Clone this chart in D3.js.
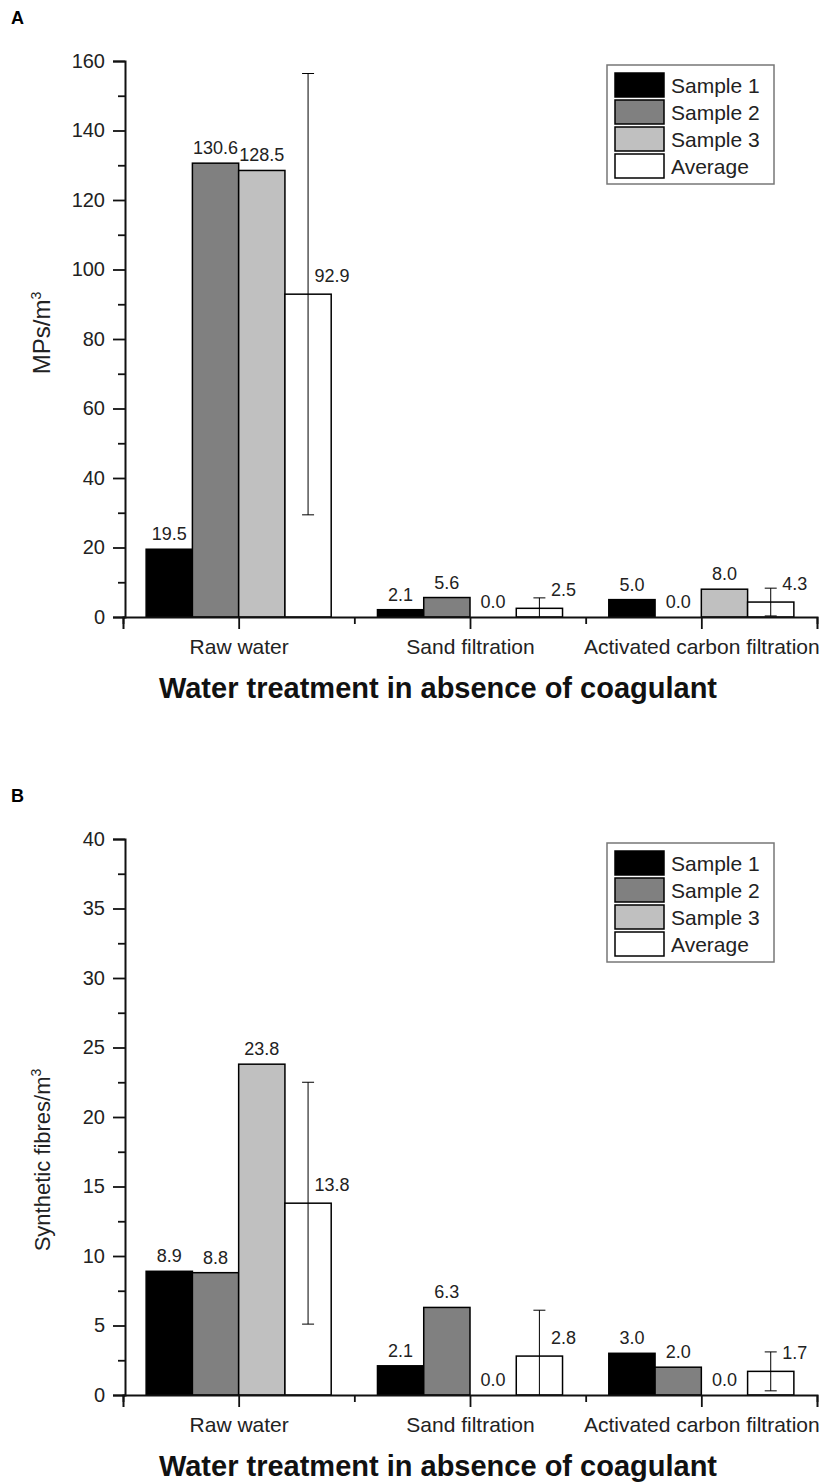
<!DOCTYPE html>
<html lang="en">
<head>
  <meta charset="UTF-8">
  <title>Water treatment in absence of coagulant</title>
  <style>
    body { margin: 0; background: #fff; }
    svg { font-family: "Liberation Sans", Arial, sans-serif; }
  </style>
</head>
<body>
  <svg id="chart" width="827" height="1483"></svg>
  <script src="https://cdn.jsdelivr.net/npm/d3@7/dist/d3.min.js"></script>
  <script>
    // categories and series
    const categories = ['Raw water', 'Sand filtration', 'Activated carbon filtration']
    const seriesNames = ['Sample 1', 'Sample 2', 'Sample 3', 'Average']
    const seriesFill = ['#000000', '#808080', '#c0c0c0', '#ffffff']

    // panel A: MPs/m3
    const mpsSample1 = [19.5, 2.1, 5.0]
    const mpsSample2 = [130.6, 5.6, 0.0]
    const mpsSample3 = [128.5, 0.0, 8.0]
    const mpsAverage = [92.9, 2.5, 4.3]
    const mpsErr = [63.5, 3.0, 4.0]
    const mpsTicks = [0, 20, 40, 60, 80, 100, 120, 140, 160]

    // panel B: synthetic fibres/m3
    const fibSample1 = [8.9, 2.1, 3.0]
    const fibSample2 = [8.8, 6.3, 2.0]
    const fibSample3 = [23.8, 0.0, 0.0]
    const fibAverage = [13.8, 2.8, 1.7]
    const fibErr = [8.7, 3.3, 1.4]
    const fibTicks = [0, 5, 10, 15, 20, 25, 30, 35, 40]

    const svg = d3.select('#chart')

    function drawPanel(opt) {
      const g = svg.append('g').attr('transform', 'translate(0,' + opt.dy + ')')
      const x = d3.scaleLinear().domain([0.5, 3.5]).range([123, 817])
      const y = d3.scaleLinear().domain([0, opt.max]).range([617, 61])
      const barW = 0.2

      // panel letter
      g.append('text').attr('x', 11).attr('y', 24)
        .attr('font-size', 18).attr('font-weight', 'bold').text(opt.letter)

      // bars
      const series = opt.values
      series.forEach(function(vals, si) {
        g.selectAll('.bar' + si).data(vals).enter().append('rect')
          .attr('x', (d, i) => x(i + 1 - 0.4 + si * barW))
          .attr('width', x(barW) - x(0))
          .attr('y', d => y(d))
          .attr('height', d => y(0) - y(d))
          .attr('fill', seriesFill[si])
          .attr('stroke', '#000')
          .attr('stroke-width', 1.5)
      })

      // error bars on average
      const avg = series[3]
      opt.err.forEach(function(e, i) {
        const cx = x(i + 1 + 0.3)
        const top = avg[i] + e
        const bot = Math.max(0, avg[i] - e)
        g.append('line').attr('x1', cx).attr('x2', cx)
          .attr('y1', y(top)).attr('y2', y(bot))
          .attr('stroke', '#000').attr('stroke-width', 1)
        g.append('line').attr('x1', cx - 6).attr('x2', cx + 6)
          .attr('y1', y(top)).attr('y2', y(top))
          .attr('stroke', '#000').attr('stroke-width', 1)
        if (avg[i] - e >= 0) {
          g.append('line').attr('x1', cx - 6).attr('x2', cx + 6)
            .attr('y1', y(bot)).attr('y2', y(bot))
            .attr('stroke', '#000').attr('stroke-width', 1)
        }
      })

      // value labels
      series.forEach(function(vals, si) {
        g.selectAll('.lab' + si).data(vals).enter().append('text')
          .attr('x', (d, i) => x(i + 1 - 0.3 + si * barW) + (si === 3 ? 24 : 0))
          .attr('y', d => y(d) - (si === 3 ? 12 : 9))
          .attr('text-anchor', 'middle')
          .attr('font-size', 18)
          .attr('fill', '#222')
          .text(d => d.toFixed(1))
      })

      // y axis
      const yAxis = g.append('g').attr('transform', 'translate(125,0)')
        .call(d3.axisLeft(y).tickValues(opt.ticks).tickSize(12).tickPadding(8))
      const step = opt.ticks[1] - opt.ticks[0]
      const minor = opt.ticks.slice(0, -1).map(t => t + step / 2)
      g.append('g').attr('transform', 'translate(125,0)')
        .call(d3.axisLeft(y).tickValues(minor).tickSize(7).tickFormat(''))
        .select('.domain').remove()

      // x axis
      const xAxis = g.append('g').attr('transform', 'translate(0,617)')
        .call(d3.axisBottom(x).tickValues([1, 2, 3]).tickSize(12).tickPadding(10)
          .tickFormat(d => categories[d - 1]))
      g.append('g').attr('transform', 'translate(0,617)')
        .call(d3.axisBottom(x).tickValues([0.5, 1.5, 2.5, 3.5]).tickSize(7).tickFormat(''))
        .select('.domain').remove()

      g.selectAll('.tick line').attr('stroke', '#111').attr('stroke-width', 1.8)
      g.selectAll('.domain').attr('stroke', '#111').attr('stroke-width', 2)
      yAxis.selectAll('text').attr('font-size', 20).attr('fill', '#222')
        .style('font-family', '"Liberation Sans", Arial, sans-serif')
      xAxis.selectAll('text').attr('font-size', 21).attr('fill', '#222')
        .style('font-family', '"Liberation Sans", Arial, sans-serif')

      // x title
      g.append('text').attr('x', 438).attr('y', 698)
        .attr('text-anchor', 'middle').attr('font-size', 29).attr('font-weight', 'bold')
        .attr('fill', '#111').text('Water treatment in absence of coagulant')

      // y title
      const yt = g.append('text')
        .attr('transform', 'translate(50,' + opt.yTitleY + ') rotate(-90)')
        .attr('text-anchor', 'middle').attr('font-size', opt.yTitleSize).attr('fill', '#222')
      yt.append('tspan').text(opt.yTitle + '/m')
      yt.append('tspan').attr('dy', -9).attr('font-size', 14).text('3')

      // legend
      const lg = g.append('g')
      lg.append('rect').attr('x', 607).attr('y', 65).attr('width', 167).attr('height', 119)
        .attr('fill', '#fff').attr('stroke', '#777').attr('stroke-width', 1.5)
      seriesNames.forEach(function(name, i) {
        lg.append('rect').attr('x', 615).attr('y', 73 + i * 27)
          .attr('width', 49).attr('height', 24)
          .attr('fill', seriesFill[i]).attr('stroke', '#000').attr('stroke-width', 1.5)
        lg.append('text').attr('x', 671).attr('y', 93 + i * 27)
          .attr('font-size', 21).attr('fill', '#222').text(name)
      })
    }

    drawPanel({
      dy: 0, letter: 'A', max: 160, ticks: mpsTicks,
      values: [mpsSample1, mpsSample2, mpsSample3, mpsAverage], err: mpsErr,
      yTitle: 'MPs', yTitleY: 333, yTitleSize: 24
    })
    drawPanel({
      dy: 778, letter: 'B', max: 40, ticks: fibTicks,
      values: [fibSample1, fibSample2, fibSample3, fibAverage], err: fibErr,
      yTitle: 'Synthetic fibres', yTitleY: 382, yTitleSize: 22
    })
  </script>
</body>
</html>
